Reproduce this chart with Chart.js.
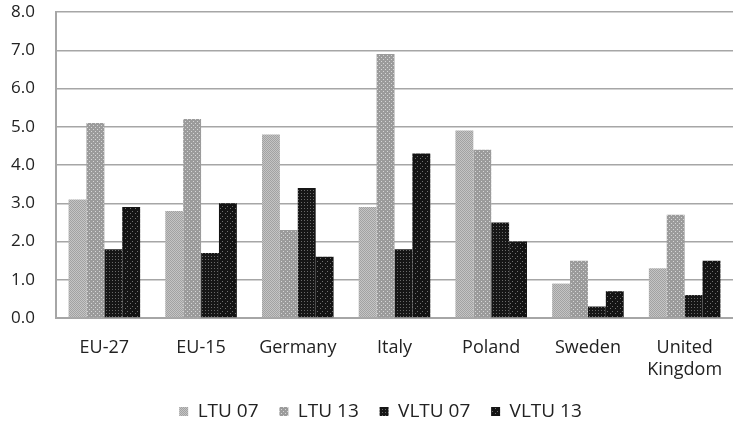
<!DOCTYPE html>
<html>
<head>
<meta charset="utf-8">
<script src="https://cdn.jsdelivr.net/npm/chart.js@4"></script>
<style>
  html, body { margin: 0; padding: 0; background: #fff; }
  #wrap { width: 733px; height: 428px; }
</style>
</head>
<body>
<div id="wrap"><canvas id="c" width="733" height="428"></canvas></div>
<script>
const categories = ['EU-27', 'EU-15', 'Germany', 'Italy', 'Poland', 'Sweden', ['United', 'Kingdom']];
const ltu07  = [3.1, 2.8, 4.8, 2.9, 4.9, 0.9, 1.3];
const ltu13  = [5.1, 5.2, 2.3, 6.9, 4.4, 1.5, 2.7];
const vltu07 = [1.8, 1.7, 3.4, 1.8, 2.5, 0.3, 0.6];
const vltu13 = [2.9, 3.0, 1.6, 4.3, 2.0, 0.7, 1.5];
const seriesNames = ['LTU 07', 'LTU 13', 'VLTU 07', 'VLTU 13'];

// Small dotted fill patterns for each series
function makePattern(size, bg, dot, dots) {
  const p = document.createElement('canvas');
  p.width = size; p.height = size;
  const g = p.getContext('2d');
  g.fillStyle = bg;
  g.fillRect(0, 0, size, size);
  g.fillStyle = dot;
  dots.forEach(([x, y, w, h]) => g.fillRect(x, y, w || 1, h || 1));
  return g.createPattern(p, 'repeat');
}
const ctx = document.getElementById('c').getContext('2d');
const fills = [
  makePattern(2, '#c4c4c4', '#a2a2a2', [[0, 0], [1, 1]]),
  makePattern(4, '#9b9b9b', '#d6d6d6', [[1, 1], [3, 3]]),
  makePattern(3, '#161616', '#6a6a6a', [[1, 1]]),
  makePattern(5, '#141414', '#707070', [[2, 1], [0, 3]])
];

const seriesValues = [ltu07, ltu13, vltu07, vltu13];

// Nudge the bottom legend so it sits centred under the plot area
const legendShift = {
  id: 'legendShift',
  afterLayout(chart) {
    chart.legend.left += 14;
    chart.legend.right += 14;
  }
};

new Chart(ctx, {
  type: 'bar',
  data: {
    labels: categories,
    datasets: seriesNames.map((name, i) => ({
      label: name,
      data: seriesValues[i],
      backgroundColor: fills[i],
      borderWidth: 0,
      categoryPercentage: 0.74,
      barPercentage: 1.0
    }))
  },
  plugins: [legendShift],
  options: {
    responsive: false,
    animation: false,
    layout: { padding: { left: 0, right: 0, top: 12, bottom: -3 } },
    plugins: {
      legend: {
        position: 'bottom',
        labels: {
          boxWidth: 9,
          boxHeight: 9,
          padding: 6,
          color: '#222',
          font: { family: 'Open Sans', size: 19 },
          generateLabels: (chart) => {
            const items = Chart.defaults.plugins.legend.labels.generateLabels(chart);
            // extra room between legend entries
            items.forEach((it, i) => { if (i < items.length - 1) it.text = it.text + '   '; });
            return items;
          }
        }
      },
      tooltip: { enabled: false }
    },
    scales: {
      x: {
        afterFit: (s) => { s.height = 78; s.paddingLeft = 0; s.paddingRight = 0; },
        grid: { display: false, drawTicks: false },
        border: { display: true, color: '#a6a6a6', width: 2 },
        ticks: {
          color: '#222',
          padding: 19,
          font: { family: 'Open Sans', size: 18 },
          maxRotation: 0,
          autoSkip: false
        }
      },
      y: {
        min: 0,
        max: 8,
        afterFit: (s) => { s.width = 56; s.paddingTop = 0; s.paddingBottom = 0; },
        ticks: {
          stepSize: 1,
          color: '#222',
          padding: 21,
          font: { family: 'Open Sans', size: 17 },
          callback: (v) => Number(v).toFixed(1)
        },
        grid: { color: '#a6a6a6', lineWidth: 1.5, drawTicks: false },
        border: { display: true, color: '#a6a6a6', width: 2 }
      }
    }
  }
});
</script>
</body>
</html>
